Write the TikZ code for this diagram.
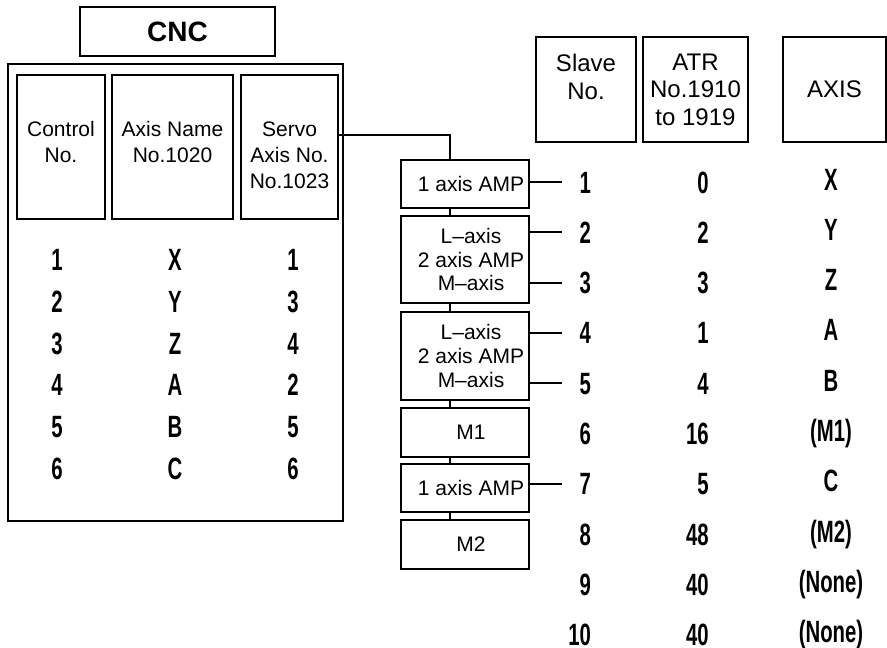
\documentclass[tikz,border=0pt]{standalone}
\usepackage{fontspec}
\setmainfont{Liberation Sans}
\newfontfamily\datafont{Liberation Sans}[FakeStretch=0.66]
\usetikzlibrary{positioning}

\begin{document}
\begin{tikzpicture}[x=0.5pt,y=-0.5pt,
  box/.style={draw,line width=1pt,inner sep=0pt},
  hdr/.style={inner sep=0pt,align=center,font=\fontsize{10.5}{13}\selectfont},
  thdr/.style={inner sep=0pt,align=center,font=\fontsize{12}{13.75}\selectfont},
  amp/.style={box,minimum width=64pt},
  amptxt/.style={inner sep=0pt,align=center,font=\fontsize{10.5}{11.8}\selectfont},
  dat/.style={inner sep=0pt,text height=11pt,text depth=0pt,font=\datafont\bfseries\fontsize{15.4}{16}\selectfont},
  wire/.style={line width=1pt}]
\useasboundingbox (0,0) rectangle (887,647);

% CNC side
\node[box,minimum width=97.5pt,minimum height=24.5pt,font=\bfseries\fontsize{14}{16}\selectfont] (cnc) at (177.5,31.5) {CNC};
\node[box,minimum width=167.5pt,minimum height=228.5pt] (cncbox) at (175.5,292.5) {};
\node[box,minimum width=44pt,minimum height=72pt] (ctl) at (61,147) {};
\node[box,minimum width=60.5pt,minimum height=72pt] (axn) at (172.5,147) {};
\node[box,minimum width=48.5pt,minimum height=72pt] (srv) at (289.5,147) {};
\node[hdr,below=23.5pt of ctl.north] (ctltxt) {Control\\No.};
\node[hdr,below=23.5pt of axn.north] (axntxt) {Axis Name\\No.1020};
\node[hdr,below=23.5pt of srv.north] (srvtxt) {Servo\\Axis No.\\No.1023};
\foreach \c/\n/\s [count=\i from 0] in {1/X/1,2/Y/3,3/Z/4,4/A/2,5/B/5,6/C/6}{
  \node[dat] (cno\c) at (57,259.5+41.8*\i) {\c};
  \node[dat] (can\c) at (175,259.5+41.8*\i) {\n};
  \node[dat] (csv\c) at (293,259.5+41.8*\i) {\s};
}

% amplifiers
\node[amp,minimum height=24pt] (a1) at (465,184) {};
\node[amp,minimum height=43.5pt] (a2) at (465,259.5) {};
\node[amp,minimum height=44pt] (a3) at (465,356) {};
\node[amp,minimum height=24.5pt] (m1) at (465,432.5) {};
\node[amp,minimum height=24pt] (a4) at (465,488) {};
\node[amp,minimum height=24.5pt] (m2) at (465,544.5) {};
\node[amptxt] (a1txt) at ([xshift=3pt]a1.center) {1 axis AMP};
\node[amptxt] (a2txt) at ([xshift=3pt]a2.center) {L--axis\\2 axis AMP\\M--axis};
\node[amptxt] (a3txt) at ([xshift=3pt]a3.center) {L--axis\\2 axis AMP\\M--axis};
\node[amptxt] (m1txt) at ([xshift=3pt]m1.center) {M1};
\node[amptxt] (a4txt) at ([xshift=3pt]a4.center) {1 axis AMP};
\node[amptxt] (m2txt) at ([xshift=3pt]m2.center) {M2};
\draw[wire] ([yshift=6pt]srv.east) -| ([xshift=-7.5pt]a1.north);
\foreach \u/\v in {a1/a2,a2/a3,a3/m1,m1/a4,a4/m2}
  \draw[wire] ([xshift=-7.5pt]\u.south) -- ([xshift=-7.5pt]\v.north);

% slave table
\node[box,minimum width=50pt,minimum height=52.5pt] (slv) at (586,89.5) {};
\node[thdr,below=9pt of slv.north] (slvtxt) {Slave\\No.};
\node[box,thdr,minimum width=52.5pt,minimum height=52.5pt] (atr) at (695.5,89.5) {ATR\\No.1910\\to 1919};
\node[box,thdr,minimum width=51.5pt,minimum height=52.5pt] (axs) at (834.5,89.5) {AXIS};
\foreach \a/\x [count=\i] in {0/X,2/Y,3/Z,1/A,4/B,16/(M1),5/C,48/(M2),40/(None),40/(None)}{
  \node[dat,text width=14.5pt,align=right] (s\i) at (576.5,131.7+50.3*\i) {\i};
  \node[dat,anchor=east] (t\i) at (709,131.7+50.3*\i) {\a};
  \node[dat] (x\i) at (831,128.7+50.3*\i) {\x};
}
\foreach \b/\i in {a1/1,a2/2,a2/3,a3/4,a3/5,a4/7}
  \draw[wire] (\b.east |- s\i.west) -- (s\i.west);
\end{tikzpicture}
\end{document}
